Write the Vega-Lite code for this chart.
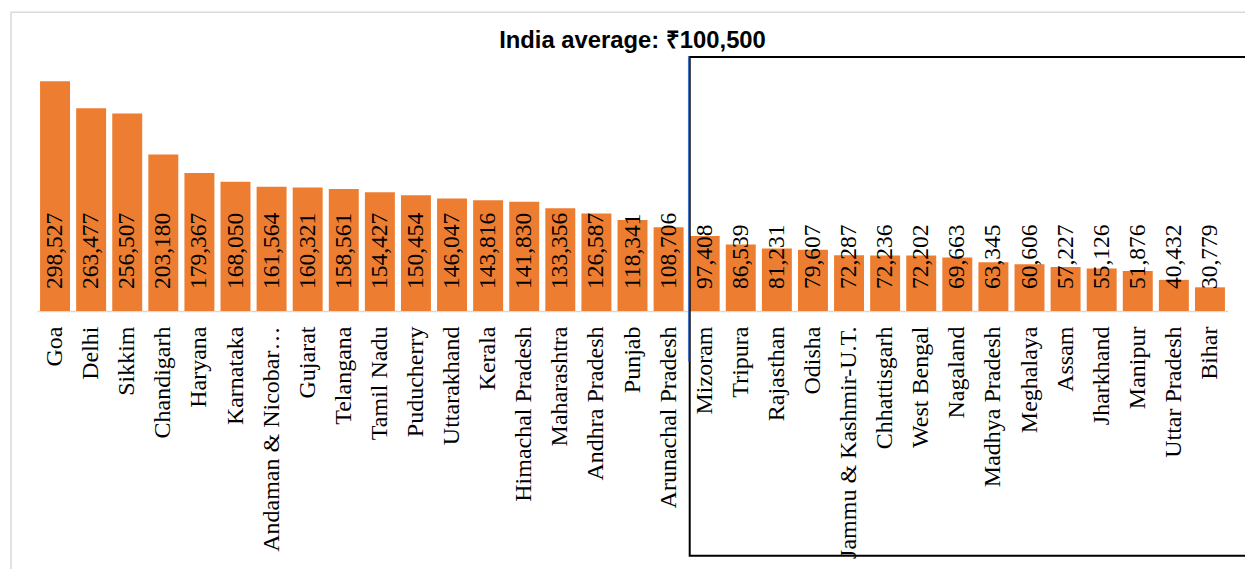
{
  "$schema": "https://vega.github.io/schema/vega-lite/v6.json",
  "autosize": "none",
  "width": 1191,
  "height": 254,
  "padding": {"left": 37, "top": 57, "right": 17, "bottom": 258},
  "background": "white",
  "config": {"view": {"stroke": null}},
  "title": {
    "text": "India average: ₹100,500",
    "font": "Liberation Sans",
    "fontWeight": "bold",
    "fontSize": 23.8,
    "color": "black",
    "anchor": "middle",
    "frame": "group",
    "offset": -60,
    "baseline": "alphabetic"
  },
  "datasets": {
    "gdp": [
      {"state": "Goa", "value": 298527},
      {"state": "Delhi", "value": 263477},
      {"state": "Sikkim", "value": 256507},
      {"state": "Chandigarh", "value": 203180},
      {"state": "Haryana", "value": 179367},
      {"state": "Karnataka", "value": 168050},
      {"state": "Andaman & Nicobar…", "value": 161564},
      {"state": "Gujarat", "value": 160321},
      {"state": "Telangana", "value": 158561},
      {"state": "Tamil Nadu", "value": 154427},
      {"state": "Puducherry", "value": 150454},
      {"state": "Uttarakhand", "value": 146047},
      {"state": "Kerala", "value": 143816},
      {"state": "Himachal Pradesh", "value": 141830},
      {"state": "Maharashtra", "value": 133356},
      {"state": "Andhra Pradesh", "value": 126587},
      {"state": "Punjab", "value": 118341},
      {"state": "Arunachal Pradesh", "value": 108706},
      {"state": "Mizoram", "value": 97408},
      {"state": "Tripura", "value": 86539},
      {"state": "Rajasthan", "value": 81231},
      {"state": "Odisha", "value": 79607},
      {"state": "Jammu & Kashmir-U.T.", "value": 72287},
      {"state": "Chhattisgarh", "value": 72236},
      {"state": "West Bengal", "value": 72202},
      {"state": "Nagaland", "value": 69663},
      {"state": "Madhya Pradesh", "value": 63345},
      {"state": "Meghalaya", "value": 60606},
      {"state": "Assam", "value": 57227},
      {"state": "Jharkhand", "value": 55126},
      {"state": "Manipur", "value": 51876},
      {"state": "Uttar Pradesh", "value": 40432},
      {"state": "Bihar", "value": 30779}
    ],
    "frame": [{"from": "Goa", "to": "Bihar", "top": 388000, "bottom": -400000}],
    "box": [{"from": "Mizoram", "to": "Bihar", "top": 330000, "bottom": -318000}],
    "divider": [{"at": "Mizoram", "top": 331000, "bottom": -66000}]
  },
  "layer": [
    {
      "data": {"name": "gdp"},
      "mark": {"type": "bar", "color": "#ED7D31"},
      "encoding": {
        "x": {
          "field": "state",
          "type": "nominal",
          "scale": {
            "domain": ["Goa", "Delhi", "Sikkim", "Chandigarh", "Haryana", "Karnataka", "Andaman & Nicobar…", "Gujarat", "Telangana", "Tamil Nadu", "Puducherry", "Uttarakhand", "Kerala", "Himachal Pradesh", "Maharashtra", "Andhra Pradesh", "Punjab", "Arunachal Pradesh", "Mizoram", "Tripura", "Rajasthan", "Odisha", "Jammu & Kashmir-U.T.", "Chhattisgarh", "West Bengal", "Nagaland", "Madhya Pradesh", "Meghalaya", "Assam", "Jharkhand", "Manipur", "Uttar Pradesh", "Bihar"],
            "paddingInner": 0.17,
            "paddingOuter": 0.085
          },
          "axis": {
            "title": null,
            "labelAngle": -90,
            "labelFont": "Liberation Serif",
            "labelFontSize": 24,
            "labelColor": "black",
            "labelPadding": 15,
            "labelLimit": 400,
            "ticks": false,
            "domainColor": "#d9d9d9",
            "domainWidth": 1.5
          }
        },
        "y": {
          "field": "value",
          "type": "quantitative",
          "scale": {"domain": [0, 330000], "nice": false, "zero": true},
          "axis": null
        }
      }
    },
    {
      "data": {"name": "gdp"},
      "mark": {
        "type": "text",
        "angle": 270,
        "align": "left",
        "baseline": "middle",
        "dx": 22,
        "font": "Liberation Serif",
        "fontSize": 23.5,
        "color": "black"
      },
      "encoding": {
        "x": {"field": "state", "type": "nominal"},
        "y": {"datum": 0, "type": "quantitative"},
        "text": {"field": "value", "type": "quantitative", "format": ","}
      }
    },
    {
      "data": {"name": "frame"},
      "mark": {
        "type": "rect",
        "fill": null,
        "fillOpacity": 0,
        "stroke": "#d9d9d9",
        "strokeWidth": 1.5,
        "xOffset": -29,
        "x2Offset": 60
      },
      "encoding": {
        "x": {"field": "from", "type": "nominal", "bandPosition": 0},
        "x2": {"field": "to", "bandPosition": 1},
        "y": {"field": "top", "type": "quantitative"},
        "y2": {"field": "bottom"}
      }
    },
    {
      "data": {"name": "box"},
      "mark": {
        "type": "rect",
        "fill": null,
        "fillOpacity": 0,
        "stroke": "black",
        "strokeWidth": 2,
        "x2Offset": 60
      },
      "encoding": {
        "x": {"field": "from", "type": "nominal", "bandPosition": 0},
        "x2": {"field": "to", "bandPosition": 1},
        "y": {"field": "top", "type": "quantitative"},
        "y2": {"field": "bottom"}
      }
    },
    {
      "data": {"name": "divider"},
      "mark": {"type": "rule", "color": "#4472C4", "strokeWidth": 1.5, "xOffset": -1},
      "encoding": {
        "x": {"field": "at", "type": "nominal", "bandPosition": 0},
        "y": {"field": "top", "type": "quantitative"},
        "y2": {"field": "bottom"}
      }
    }
  ]
}
